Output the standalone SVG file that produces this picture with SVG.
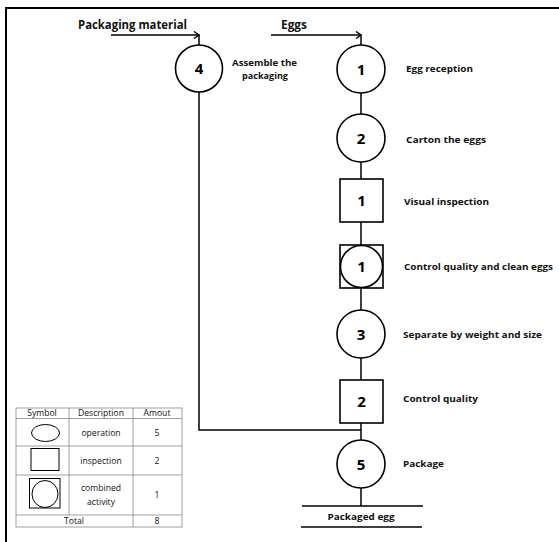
<svg xmlns="http://www.w3.org/2000/svg" width="559" height="542" viewBox="0 0 559 542">
<style>
.ln{stroke:#000;stroke-width:1.5;fill:none}
.nd{stroke:#000;stroke-width:1.6;fill:#fff}
.num{font-family:"Open Sans","DejaVu Sans",sans-serif;font-weight:bold;font-size:15px;text-anchor:middle;fill:#000}
.lbl{font-family:"Open Sans","DejaVu Sans",sans-serif;font-weight:bold;font-size:9.2px;fill:#111}
.hd{font-family:"Open Sans","DejaVu Sans",sans-serif;font-weight:bold;font-size:12px;fill:#111}
.tb{font-family:"Open Sans","Noto Sans",sans-serif;font-size:8.6px;text-anchor:middle;fill:#111}
.tl{stroke:#888;stroke-width:0.8;fill:none}
.sym{stroke:#000;stroke-width:1;fill:none}
</style>
<defs>
<marker id="arr" markerWidth="8" markerHeight="8" refX="6" refY="4" orient="auto" markerUnits="userSpaceOnUse">
<path d="M1,0.5 L6,4 L1,7.5" stroke="#000" stroke-width="1.4" fill="none"/>
</marker>
</defs>
<rect width="559" height="542" fill="#fff"/>
<g id="frame">
<line x1="6" y1="8" x2="559" y2="8" stroke="#000" stroke-width="2.2"/>
<line x1="6" y1="7" x2="6" y2="542" stroke="#000" stroke-width="2"/>
</g>
<g id="connectors">
<line class="ln" x1="111" y1="35" x2="199" y2="35" marker-end="url(#arr)"/>
<line class="ln" x1="199" y1="34.5" x2="199" y2="46"/>
<line class="ln" x1="271" y1="35" x2="361" y2="35" marker-end="url(#arr)"/>
<line class="ln" x1="361" y1="34.5" x2="361" y2="46"/>
<polyline class="ln" points="199,92 199,430 361,430"/>
<line class="ln" x1="361" y1="93" x2="361" y2="114"/>
<line class="ln" x1="361" y1="162" x2="361" y2="179"/>
<line class="ln" x1="361" y1="222" x2="361" y2="245"/>
<line class="ln" x1="361" y1="288" x2="361" y2="310"/>
<line class="ln" x1="361" y1="358" x2="361" y2="380"/>
<line class="ln" x1="361" y1="423" x2="361" y2="440"/>
<line class="ln" x1="361" y1="488" x2="361" y2="506"/>
</g>
<g id="inputs">
<text class="hd" x="78" y="29" textLength="109" lengthAdjust="spacingAndGlyphs">Packaging material</text>
<text class="hd" x="281" y="29" textLength="26" lengthAdjust="spacingAndGlyphs">Eggs</text>
</g>
<g id="op4">
<circle class="nd" cx="199" cy="68.5" r="23.5"/>
<text class="num" x="199" y="74">4</text>
<text class="lbl" x="264.5" y="66" text-anchor="middle" textLength="65" lengthAdjust="spacingAndGlyphs">Assemble the</text>
<text class="lbl" x="265" y="79" text-anchor="middle" textLength="46" lengthAdjust="spacingAndGlyphs">packaging</text>
</g>
<g id="op1">
<circle class="nd" cx="361" cy="69" r="24"/>
<text class="num" x="361" y="74.5">1</text>
<text class="lbl" x="406" y="72" textLength="67" lengthAdjust="spacingAndGlyphs">Egg reception</text>
</g>
<g id="op2">
<circle class="nd" cx="361" cy="138" r="24"/>
<text class="num" x="361" y="143.5">2</text>
<text class="lbl" x="406" y="142.5" textLength="80" lengthAdjust="spacingAndGlyphs">Carton the eggs</text>
</g>
<g id="insp1">
<rect class="nd" x="340" y="179" width="43" height="43"/>
<text class="num" x="361.5" y="206">1</text>
<text class="lbl" x="404" y="205" textLength="85" lengthAdjust="spacingAndGlyphs">Visual inspection</text>
</g>
<g id="comb1">
<rect class="nd" x="340" y="245" width="43" height="43"/>
<circle class="nd" cx="361.5" cy="266.5" r="21"/>
<text class="num" x="361.5" y="272">1</text>
<text class="lbl" x="404" y="270" textLength="149" lengthAdjust="spacingAndGlyphs">Control quality and clean eggs</text>
</g>
<g id="op3">
<circle class="nd" cx="361" cy="334" r="24"/>
<text class="num" x="361" y="339.5">3</text>
<text class="lbl" x="403" y="338" textLength="139" lengthAdjust="spacingAndGlyphs">Separate by weight and size</text>
</g>
<g id="insp2">
<rect class="nd" x="340" y="380" width="43" height="43"/>
<text class="num" x="361.5" y="407">2</text>
<text class="lbl" x="403" y="402" textLength="75" lengthAdjust="spacingAndGlyphs">Control quality</text>
</g>
<g id="op5">
<circle class="nd" cx="361" cy="464" r="24"/>
<text class="num" x="361" y="469.5">5</text>
<text class="lbl" x="403" y="467" textLength="41" lengthAdjust="spacingAndGlyphs">Package</text>
</g>
<g id="output">
<line class="ln" x1="302" y1="506" x2="423" y2="506"/>
<line class="ln" x1="301" y1="527" x2="422" y2="527"/>
<text class="lbl" x="361" y="520" text-anchor="middle" textLength="67" lengthAdjust="spacingAndGlyphs">Packaged egg</text>
</g>
<g id="legend">
<rect class="tl" x="16" y="408" width="166" height="119"/>
<line class="tl" x1="16" y1="418.5" x2="182" y2="418.5"/>
<line class="tl" x1="16" y1="446" x2="182" y2="446"/>
<line class="tl" x1="16" y1="475" x2="182" y2="475"/>
<line class="tl" x1="16" y1="515" x2="182" y2="515"/>
<line class="tl" x1="69" y1="408" x2="69" y2="515"/>
<line class="tl" x1="133" y1="408" x2="133" y2="527"/>
<text class="tb" x="42" y="416">Symbol</text>
<text class="tb" x="101" y="416">Description</text>
<text class="tb" x="157" y="416">Amout</text>
<ellipse class="sym" cx="45.5" cy="433" rx="14" ry="8.5"/>
<text class="tb" x="101" y="436">operation</text>
<text class="tb" x="157" y="436">5</text>
<rect class="sym" x="31" y="448.5" width="28" height="22"/>
<text class="tb" x="101" y="464">inspection</text>
<text class="tb" x="157" y="464">2</text>
<rect class="sym" x="29.5" y="478.5" width="30.5" height="29.5"/>
<ellipse class="sym" cx="45" cy="494" rx="13" ry="13.5"/>
<text class="tb" x="101" y="491">combined</text>
<text class="tb" x="101" y="505">activity</text>
<text class="tb" x="157" y="498">1</text>
<text class="tb" x="74" y="524">Total</text>
<text class="tb" x="157" y="524">8</text>
</g>
</svg>
